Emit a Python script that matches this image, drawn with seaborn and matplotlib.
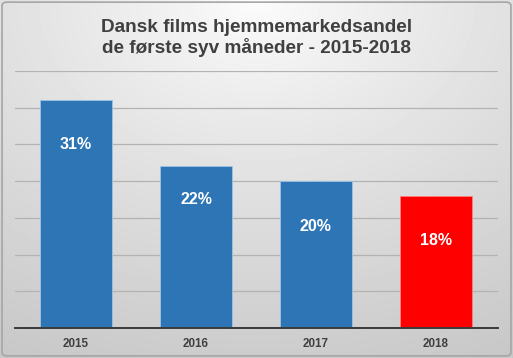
import numpy as np
import pandas as pd
import matplotlib
matplotlib.use("Agg")
import matplotlib.pyplot as plt
from matplotlib.patches import FancyBboxPatch
import seaborn as sns

# Dados (andel i %)
aar = ["2015", "2016", "2017", "2018"]
andel = [31, 22, 20, 18]
farver = ["#2E75B6", "#2E75B6", "#2E75B6", "#FF0000"]
titel = "Dansk films hjemmemarkedsandel\nde første syv måneder - 2015-2018"

# Stil
sns.set_style("white")
plt.rcParams["font.family"] = ["Liberation Sans", "DejaVu Sans"]

df = pd.DataFrame({"aar": aar, "andel": andel})

W, H = 513, 358
fig = plt.figure(figsize=(W / 100, H / 100), dpi=100)

# Baggrund med gradient (lys i toppen, grå mod kanterne)
bg = fig.add_axes([0, 0, 1, 1])
yy, xx = np.mgrid[0:H, 0:W]
dist = np.sqrt(((xx - W / 2) / W) ** 2 + (yy / (H * 1.05)) ** 2)
dist = np.clip(dist / dist.max(), 0, 1)
grey = 0.99 - 0.21 * dist ** 0.85
bg.imshow(grey, cmap="gray", vmin=0, vmax=1, aspect="auto", extent=[0, 1, 0, 1])
bg.set_xlim(0, 1)
bg.set_ylim(0, 1)
bg.axis("off")
bg.add_patch(FancyBboxPatch((0.004, 0.006), 0.992, 0.988,
                            boxstyle="round,pad=0,rounding_size=0.01",
                            fill=False, edgecolor="#a6a6a6", linewidth=1.2,
                            transform=bg.transAxes))

# Diagram
left, right, top, bottom = 15, 498, 71, 328
ax = fig.add_axes([left / W, (H - bottom) / H, (right - left) / W, (bottom - top) / H])
ax.set_facecolor("none")

sns.barplot(data=df, x="aar", y="andel", hue="aar", palette=farver, saturation=1,
            width=0.6, legend=False, ax=ax, edgecolor="#9dc3e6", linewidth=0.6,
            zorder=3)
ax.patches[-1].set_edgecolor("#ff8080")

ax.set_ylim(0, 35)
ax.set_xlim(-0.51, 3.52)
ax.set_yticks(np.arange(0, 36, 5))
ax.yaxis.grid(True, color="#b3b3b3", linewidth=0.9, zorder=0)
ax.set_yticklabels([])
ax.tick_params(axis="y", length=0)
ax.tick_params(axis="x", length=0, pad=7)
for lbl in ax.get_xticklabels():
    lbl.set_fontsize(8.4)
    lbl.set_fontweight("bold")
    lbl.set_color("#404040")
ax.set_xlabel("")
ax.set_ylabel("")
for side in ["top", "right", "left"]:
    ax.spines[side].set_visible(False)
ax.spines["bottom"].set_color("#3a3a3a")
ax.spines["bottom"].set_linewidth(1.4)
ax.spines["bottom"].set_zorder(4)

# Etiketter inde i søjlerne
label_offset = [44, 33, 45, 45]
for i, (v, off) in enumerate(zip(andel, label_offset)):
    ax.annotate(f"{v}%", xy=(i, v), xytext=(0, -off * 0.72), textcoords="offset points",
                ha="center", va="center", fontsize=11.5, fontweight="bold",
                color="white", zorder=5)

fig.text(0.5, 1 - 38 / H, titel, ha="center", va="center", fontsize=13.7,
         fontweight="bold", color="#404040", linespacing=1.1)

fig.savefig("out.png", dpi=100)
